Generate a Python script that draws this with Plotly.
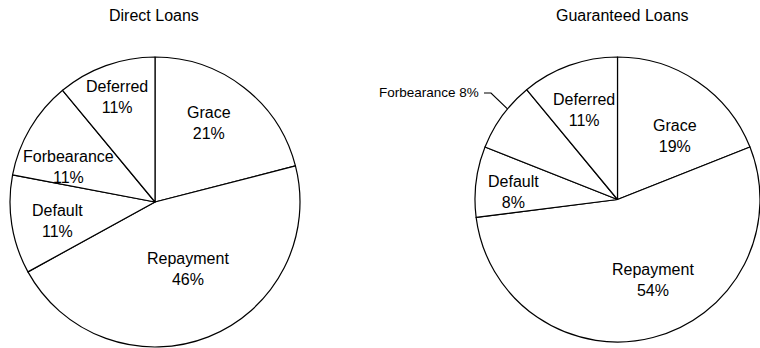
import math
import plotly.graph_objects as go

W, H = 760, 348

categories = ["Grace", "Repayment", "Default", "Forbearance", "Deferred"]
direct_values = [21, 46, 11, 11, 11]
guaranteed_values = [19, 54, 8, 8, 11]
titles = ["Direct Loans", "Guaranteed Loans"]

FONT = "Liberation Sans, Arial, sans-serif"
FS = 16

# pie geometry (pixels)
left_box = (10, 300, 57, 347)     # x0, x1, ytop, ybottom
right_box = (475, 760, 57, 342)

# label placement (pixel centres) for each pie
left_label_pos = {"Grace": (209, 123), "Repayment": (188, 269), "Default": (57, 221),
                  "Forbearance": (68, 167), "Deferred": (117, 97)}
right_label_pos = {"Grace": (675, 136), "Repayment": (653, 280), "Default": (513, 192),
                   "Deferred": (584, 110)}
title_pos = [(154, 16), (622, 16)]


def dom(box):
    x0, x1, yt, yb = box
    return dict(x=[x0 / W, x1 / W], y=[1 - yb / H, 1 - yt / H])


common = dict(
    labels=categories,
    sort=False,
    direction="clockwise",
    rotation=0,
    marker=dict(colors=["white"] * 5, line=dict(color="black", width=1.2)),
    textinfo="none",
    hoverinfo="label+value",
    showlegend=False,
)

fig = go.Figure()
fig.add_trace(go.Pie(values=direct_values, domain=dom(left_box), **common))
fig.add_trace(go.Pie(values=guaranteed_values, domain=dom(right_box), **common))


def ann(text, px, py, size=FS, xanchor="center"):
    return dict(text=text, x=px / W, y=1 - py / H, xref="paper", yref="paper",
                xanchor=xanchor, yanchor="middle", showarrow=False,
                font=dict(family=FONT, size=size, color="black"))


annotations = []
for t, (px, py) in zip(titles, title_pos):
    annotations.append(ann(t, px, py, size=16))

for vals, pos in [(direct_values, left_label_pos), (guaranteed_values, right_label_pos)]:
    for c, v in zip(categories, vals):
        if c in pos:
            px, py = pos[c]
            annotations.append(ann(f"{c}<br>{v}%", px, py))

# Forbearance outside label with leader line (guaranteed pie)
cx, cy, R = 617.5, 199.5, 142.5
idx = categories.index("Forbearance")
start = sum(guaranteed_values[:idx])
frac = (start + 0.62 * guaranteed_values[idx]) / sum(guaranteed_values)
ang = 2 * math.pi * frac
tipx = cx + R * math.sin(ang)
tipy = cy - R * math.cos(ang)
lab_x, lab_y = 481, 93
annotations.append(ann(f"Forbearance {guaranteed_values[idx]}%", lab_x, lab_y, size=13.5, xanchor="right"))
shapes = [dict(type="path", xref="paper", yref="paper",
               path=f"M {(lab_x + 3) / W},{1 - lab_y / H} L {(lab_x + 10) / W},{1 - lab_y / H} "
                    f"L {tipx / W},{1 - tipy / H}",
               line=dict(color="black", width=1.2))]

fig.update_layout(
    width=W, height=H,
    margin=dict(l=0, r=0, t=0, b=0),
    paper_bgcolor="white", plot_bgcolor="white",
    annotations=annotations,
    shapes=shapes,
)

fig.write_html("out.html")
